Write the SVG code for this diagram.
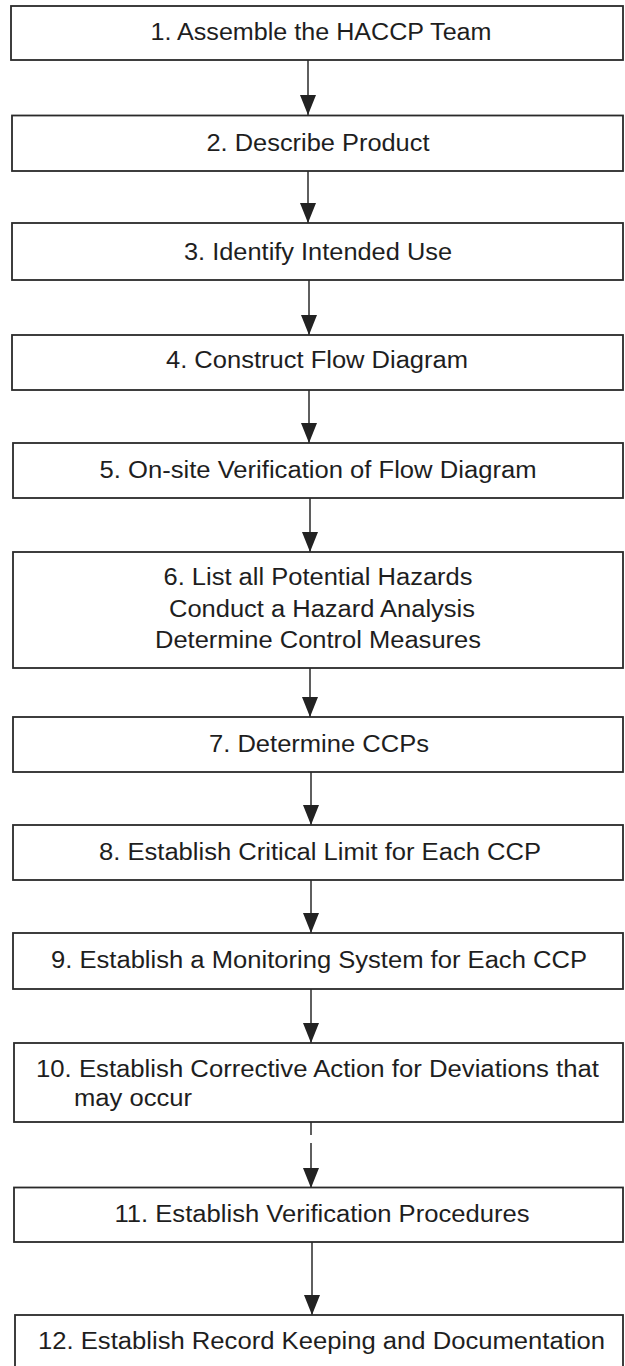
<svg xmlns="http://www.w3.org/2000/svg" width="625" height="1366" viewBox="0 0 625 1366">
<style>
.box{fill:#fff;stroke:#2a2a2a;stroke-width:1.8}
.t{font-family:"Liberation Sans",Arial,sans-serif;font-size:23px;fill:#1e1e1e;text-anchor:middle}
.tl{font-family:"Liberation Sans",Arial,sans-serif;font-size:23px;fill:#1e1e1e;text-anchor:start}
.c{fill:none;stroke:#2a2a2a;stroke-width:1.5}
</style>
<defs>
<marker id="ah" markerUnits="userSpaceOnUse" viewBox="0 -8 20 16" refX="20" refY="0" markerWidth="20" markerHeight="16" orient="auto">
<path d="M0,-8 L20,0 L0,8 z" fill="#222"/>
</marker>
</defs>
<rect width="625" height="1366" fill="#fff"/>
<g id="connectors">
<path class="c" d="M308,60 V115" marker-end="url(#ah)"/>
<path class="c" d="M308,171 V223" marker-end="url(#ah)"/>
<path class="c" d="M309,280 V335" marker-end="url(#ah)"/>
<path class="c" d="M309,390 V443" marker-end="url(#ah)"/>
<path class="c" d="M310,498 V552" marker-end="url(#ah)"/>
<path class="c" d="M310,668 V717" marker-end="url(#ah)"/>
<path class="c" d="M311,772 V825" marker-end="url(#ah)"/>
<path class="c" d="M311,880 V933" marker-end="url(#ah)"/>
<path class="c" d="M311,989 V1043" marker-end="url(#ah)"/>
<path class="c" d="M311,1122 V1135"/>
<path class="c" d="M311,1143 V1188" marker-end="url(#ah)"/>
<path class="c" d="M312,1242 V1315" marker-end="url(#ah)"/>
</g>
<g id="n1"><rect class="box" x="11" y="6" width="612" height="54"/><text class="t" x="321" y="40" textLength="341" lengthAdjust="spacingAndGlyphs">1. Assemble the HACCP Team</text></g>
<g id="n2"><rect class="box" x="12" y="115.5" width="611" height="55.5"/><text class="t" x="318" y="150.5" textLength="223" lengthAdjust="spacingAndGlyphs">2. Describe Product</text></g>
<g id="n3"><rect class="box" x="12" y="223" width="611" height="57"/><text class="t" x="318" y="260" textLength="268" lengthAdjust="spacingAndGlyphs">3. Identify Intended Use</text></g>
<g id="n4"><rect class="box" x="12" y="335" width="611" height="55"/><text class="t" x="317" y="368" textLength="302" lengthAdjust="spacingAndGlyphs">4. Construct Flow Diagram</text></g>
<g id="n5"><rect class="box" x="13" y="443" width="610" height="55"/><text class="t" x="318" y="478" textLength="437" lengthAdjust="spacingAndGlyphs">5. On-site Verification of Flow Diagram</text></g>
<g id="n6"><rect class="box" x="13" y="552" width="610" height="116"/>
<text class="t" x="318" y="585" textLength="309" lengthAdjust="spacingAndGlyphs">6. List all Potential Hazards</text>
<text class="t" x="322" y="617" textLength="306" lengthAdjust="spacingAndGlyphs">Conduct a Hazard Analysis</text>
<text class="t" x="318" y="648" textLength="326" lengthAdjust="spacingAndGlyphs">Determine Control Measures</text></g>
<g id="n7"><rect class="box" x="13" y="717" width="610" height="55"/><text class="t" x="319" y="752" textLength="220" lengthAdjust="spacingAndGlyphs">7. Determine CCPs</text></g>
<g id="n8"><rect class="box" x="13" y="825" width="610" height="55"/><text class="t" x="320" y="860" textLength="442" lengthAdjust="spacingAndGlyphs">8. Establish Critical Limit for Each CCP</text></g>
<g id="n9"><rect class="box" x="13" y="933" width="610" height="56"/><text class="t" x="319" y="968" textLength="536" lengthAdjust="spacingAndGlyphs">9. Establish a Monitoring System for Each CCP</text></g>
<g id="n10"><rect class="box" x="14" y="1043" width="609" height="79"/>
<text class="tl" x="36" y="1077" textLength="563" lengthAdjust="spacingAndGlyphs">10. Establish Corrective Action for Deviations that</text>
<text class="tl" x="74" y="1106" textLength="118" lengthAdjust="spacingAndGlyphs">may occur</text></g>
<g id="n11"><rect class="box" x="14" y="1187.5" width="609" height="54.5"/><text class="t" x="322" y="1222" textLength="415" lengthAdjust="spacingAndGlyphs">11. Establish Verification Procedures</text></g>
<g id="n12"><rect class="box" x="15" y="1315" width="608" height="70"/><text class="tl" x="38" y="1349" textLength="567" lengthAdjust="spacingAndGlyphs">12. Establish Record Keeping and Documentation</text></g>
</svg>
